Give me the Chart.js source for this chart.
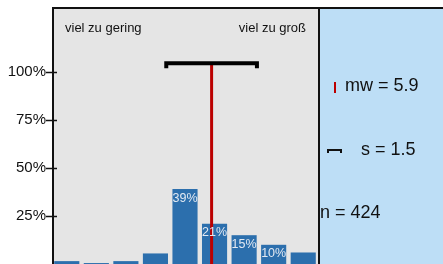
<!DOCTYPE html>
<html>
<head>
<meta charset="utf-8">
<script src="https://cdn.jsdelivr.net/npm/chart.js@4/dist/chart.umd.min.js"></script>
<style>
    body { margin: 0; background: #fff; }
    #wrap { width: 443px; height: 264px; }
</style>
</head>
<body>
<div id="wrap"><canvas id="chart" width="443" height="264"></canvas></div>
<script>
// Antwortkategorien 1..9 und Anteile in %
const categories = ['1', '2', '3', '4', '5', '6', '7', '8', '9'];
const shares = [1.5, 0.5, 1.5, 5.5, 39, 21, 15, 10, 6];
const yTicks = [25, 50, 75, 100];
const anchorLeft = 'viel zu gering';
const anchorRight = 'viel zu groß';
const mean = 5.9;
const sd = 1.5;
const n = 424;
const bracketLevel = 104;   // Höhe der Streuungsklammer in %
const labelMin = 10;        // nur Balken ab 10% beschriften

const font = '"Liberation Sans", Arial, sans-serif';
const grey = '#e5e5e5';
const blue = '#bddef6';
const barBlue = '#2c6fad';
const red = '#bb0000';

const extras = {
    id: 'extras',
    beforeDraw(chart) {
        const ctx = chart.ctx;
        const a = chart.chartArea;
        ctx.save();
        ctx.fillStyle = grey;
        ctx.fillRect(a.left, a.top, a.right - a.left, a.bottom - a.top);
        ctx.fillStyle = blue;
        ctx.fillRect(a.right, a.top, chart.width - a.right, a.bottom - a.top);
        ctx.restore();
    },
    afterDatasetsDraw(chart) {
        const ctx = chart.ctx;
        const a = chart.chartArea;
        const x = chart.scales.x;
        const y = chart.scales.y;
        const meta = chart.getDatasetMeta(0);
        ctx.save();

        // Mittelwert-Linie
        const mx = x.getPixelForValue(mean - 1);
        const by = y.getPixelForValue(bracketLevel);
        ctx.strokeStyle = red;
        ctx.lineWidth = 3;
        ctx.beginPath();
        ctx.moveTo(mx, a.bottom);
        ctx.lineTo(mx, by);
        ctx.stroke();

        // Prozentwerte in den Balken
        ctx.font = '12.5px ' + font;
        ctx.fillStyle = '#e2e9f2';
        ctx.textAlign = 'center';
        ctx.textBaseline = 'middle';
        meta.data.forEach((bar, i) => {
            if (shares[i] >= labelMin) {
                ctx.fillText(Math.round(shares[i]) + '%', bar.x, bar.y + 9);
            }
        });

        // Streuungsklammer mw +/- s
        const x1 = x.getPixelForValue(mean - sd - 1);
        const x2 = x.getPixelForValue(mean + sd - 1);
        ctx.strokeStyle = '#000';
        ctx.lineWidth = 4;
        ctx.beginPath();
        ctx.moveTo(x1 - 1, by + 4);
        ctx.lineTo(x1 - 1, by - 1);
        ctx.lineTo(x2 + 1, by - 1);
        ctx.lineTo(x2 + 1, by + 4);
        ctx.stroke();

        // Rahmen
        ctx.strokeStyle = '#111';
        ctx.lineWidth = 2;
        ctx.beginPath();
        ctx.moveTo(a.left + 1, a.bottom);
        ctx.lineTo(a.left + 1, a.top);
        ctx.lineTo(chart.width, a.top);
        ctx.moveTo(a.right + 1, a.top);
        ctx.lineTo(a.right + 1, a.bottom);
        ctx.stroke();

        // Ticks der y-Achse
        ctx.lineWidth = 1.5;
        ctx.beginPath();
        yTicks.forEach(v => {
            const ty = Math.round(y.getPixelForValue(v)) + 0.5;
            ctx.moveTo(a.left - 6, ty);
            ctx.lineTo(a.left + 5, ty);
        });
        ctx.stroke();

        // Pole
        ctx.fillStyle = '#111';
        ctx.font = '13px ' + font;
        ctx.textBaseline = 'middle';
        ctx.textAlign = 'left';
        ctx.fillText(anchorLeft, a.left + 13, 28);
        ctx.textAlign = 'right';
        ctx.fillText(anchorRight, a.right - 12, 28);

        // Legende rechts
        ctx.font = '18px ' + font;
        ctx.textAlign = 'left';
        ctx.fillText('mw = ' + mean.toFixed(1), a.right + 27, 86);
        ctx.fillText('s = ' + sd.toFixed(1), a.right + 43, 150);
        ctx.fillText('n = ' + n, a.right + 2, 213);

        ctx.strokeStyle = red;
        ctx.lineWidth = 2;
        ctx.beginPath();
        ctx.moveTo(a.right + 17, 82);
        ctx.lineTo(a.right + 17, 93);
        ctx.stroke();

        ctx.strokeStyle = '#111';
        ctx.lineWidth = 2;
        ctx.beginPath();
        ctx.moveTo(a.right + 10, 153);
        ctx.lineTo(a.right + 10, 150);
        ctx.lineTo(a.right + 23, 150);
        ctx.lineTo(a.right + 23, 153);
        ctx.stroke();

        ctx.restore();
    }
};

new Chart(document.getElementById('chart'), {
    type: 'bar',
    data: {
        labels: categories,
        datasets: [{
            data: shares,
            backgroundColor: barBlue,
            barPercentage: 0.85,
            categoryPercentage: 1
        }]
    },
    options: {
        responsive: false,
        animation: false,
        layout: { padding: { top: 8, right: 125, bottom: 0, left: 0 } },
        plugins: {
            legend: { display: false },
            tooltip: { enabled: false }
        },
        scales: {
            x: { display: false },
            y: {
                min: 0,
                max: 133.3,
                afterFit: s => {
                    s.width = 52;
                    s.paddingTop = 0;
                    s.paddingBottom = 0;
                },
                afterBuildTicks: s => { s.ticks = yTicks.map(v => ({ value: v })); },
                grid: { display: false, drawTicks: false },
                border: { display: false },
                ticks: {
                    padding: 6,
                    color: '#111',
                    font: { family: font, size: 15 },
                    callback: v => v + '%'
                }
            }
        }
    },
    plugins: [extras]
});
</script>
</body>
</html>
